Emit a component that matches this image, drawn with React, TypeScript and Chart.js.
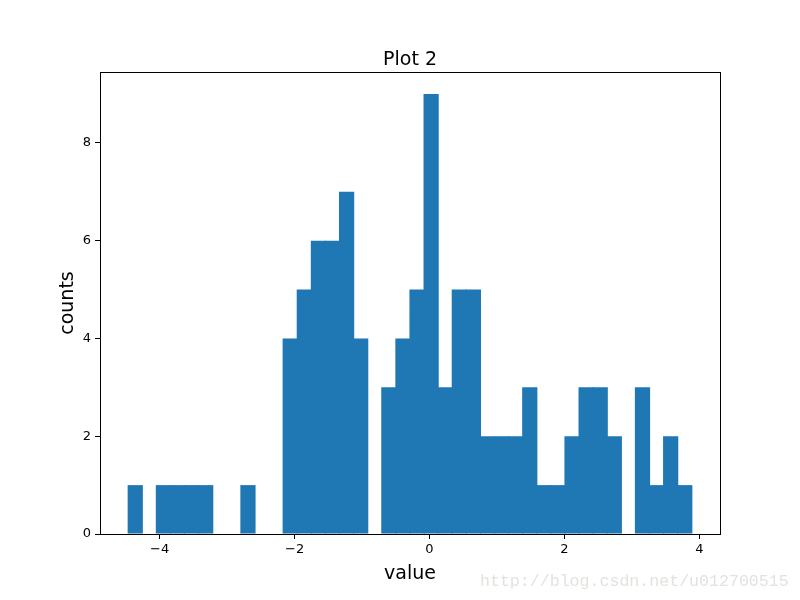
import React, { useEffect, useRef } from "react";
import { Chart, registerables } from "chart.js";

Chart.register(...registerables);

const TITLE = "Plot 2";
const X_LABEL = "value";
const Y_LABEL = "counts";
const WATERMARK = "http://blog.csdn.net/u012700515";

// histogram: first bin edge, bin width, and counts per bin (40 bins)
const BIN_START = -4.467;
const BIN_WIDTH = 0.2089;
const COUNTS = [
  1, 0, 1, 1, 1, 1, 0, 0, 1, 0,
  0, 4, 5, 6, 6, 7, 4, 0, 3, 4,
  5, 9, 3, 5, 5, 2, 2, 2, 3, 1,
  1, 2, 3, 3, 2, 0, 3, 1, 2, 1,
];

const X_MIN = -4.885;
const X_MAX = 4.307;
const Y_MIN = 0;
const Y_MAX = 9.45;
const X_STEP = 2;
const Y_STEP = 2;

const BAR_COLOR = "#1f77b4";

const fmt = (v: number) => {
  const s = String(Math.round(v * 100) / 100);
  return s.replace("-", "\u2212");
};

export default function App() {
  const ref = useRef<HTMLCanvasElement | null>(null);

  useEffect(() => {
    document.body.style.margin = "0";
    const canvas = ref.current;
    if (!canvas) return;

    const data = COUNTS.map((c, i) => ({ x: BIN_START + BIN_WIDTH * (i + 0.5), y: c === 0 ? null : c }));

    const framePlugin = {
      id: "frame",
      afterDraw(chart: any) {
        const { ctx, chartArea } = chart;
        const { left, right, top, bottom } = chartArea;
        ctx.save();
        ctx.strokeStyle = "#000";
        ctx.lineWidth = 1;
        ctx.strokeRect(Math.round(left) + 0.5, Math.round(top) + 0.5, Math.round(right - left), Math.round(bottom - top));
        ctx.fillStyle = "#000";
        ctx.textAlign = "center";
        ctx.textBaseline = "alphabetic";
        ctx.font = '19px "DejaVu Sans"';
        ctx.fillText(TITLE, (left + right) / 2, top - 7);
        ctx.font = '19px "DejaVu Sans"';
        ctx.fillText(X_LABEL, (left + right) / 2, bottom + 45);
        ctx.save();
        ctx.translate(left - 27, (top + bottom) / 2);
        ctx.rotate(-Math.PI / 2);
        ctx.fillText(Y_LABEL, 0, 0);
        ctx.restore();
        ctx.fillStyle = "#e2e2de";
        ctx.textAlign = "left";
        ctx.font = '16.6px "Liberation Mono"';
        ctx.fillText(WATERMARK, 480, 586);
        ctx.restore();
      },
    };

    const chart = new Chart(canvas, {
      type: "bar",
      data: {
        datasets: [
          {
            data,
            backgroundColor: BAR_COLOR,
            borderWidth: 0,
            barPercentage: 1,
            categoryPercentage: 1.08,
            inflateAmount: 0,
          } as any,
        ],
      },
      options: {
        animation: false,
        responsive: false,
        maintainAspectRatio: false,
        layout: { padding: { left: 0, top: 72, right: 80, bottom: 0 } },
        plugins: {
          legend: { display: false },
          tooltip: { enabled: false },
          title: { display: false },
        },
        scales: {
          x: {
            type: "linear",
            min: X_MIN,
            max: X_MAX,
            offset: false,
            grid: { display: true, offset: false, drawOnChartArea: false, drawTicks: true, tickLength: 5, color: "#000", tickColor: "#000" },
            border: { display: true, color: "#000" },
            ticks: {
              stepSize: X_STEP,
              includeBounds: false,
              color: "#000",
              padding: 3,
              maxRotation: 0,
              font: { family: "DejaVu Sans", size: 13 },
              callback: (v: any) => fmt(Number(v)),
            },
            afterFit: (s: any) => {
              s.height = 66;
            },
          },
          y: {
            type: "linear",
            min: Y_MIN,
            max: Y_MAX,
            grid: { display: true, offset: false, drawOnChartArea: false, drawTicks: true, tickLength: 5, color: "#000", tickColor: "#000" },
            border: { display: true, color: "#000" },
            ticks: {
              stepSize: Y_STEP,
              includeBounds: false,
              color: "#000",
              padding: 4,
              font: { family: "DejaVu Sans", size: 13 },
              callback: (v: any) => fmt(Number(v)),
            },
            afterFit: (s: any) => {
              s.width = 100;
            },
          },
        },
      } as any,
      plugins: [framePlugin],
    });

    return () => chart.destroy();
  }, []);

  return (
    <div style={{ width: 800, height: 600, background: "#fff" }}>
      <canvas ref={ref} width={800} height={600} style={{ width: 800, height: 600, display: "block" }} />
    </div>
  );
}
